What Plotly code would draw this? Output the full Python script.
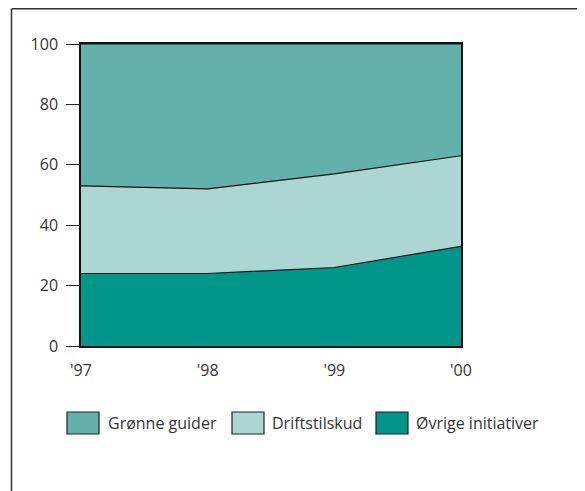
import plotly.graph_objects as go

years = ["'97", "'98", "'99", "'00"]
series_names = ["Grønne guider", "Driftstilskud", "Øvrige initiativer"]
groenne_guider = [47, 48, 43, 37]
driftstilskud = [29, 28, 31, 30]
oevrige = [24, 24, 26, 33]
y_ticks = [0, 20, 40, 60, 80, 100]

colors = {"Grønne guider": "#62b1aa", "Driftstilskud": "#acd6d2", "Øvrige initiativer": "#00968a"}

# page is offset by the browser's default 8px body margin
OFF = 8
W, H = 585, 491
L, T = 81 - OFF, 44 - OFF
pw, ph = 380, 302
R, B = W - L - pw, H - T - ph


def px(x):
    return (x - OFF - L) / pw


def py(y):
    return (H - B - (y - OFF)) / ph


fig = go.Figure()
for name, vals in [("Øvrige initiativer", oevrige), ("Driftstilskud", driftstilskud), ("Grønne guider", groenne_guider)]:
    fig.add_trace(go.Scatter(
        x=years, y=vals, name=name, mode="lines", stackgroup="one",
        line=dict(color="#111111", width=1.2), fillcolor=colors[name],
        showlegend=False, hoverinfo="x+y+name",
    ))

font = dict(family="Open Sans, Lato, sans-serif", size=16, color="#333333")

fig.update_layout(
    width=W, height=H, margin=dict(l=L, r=R, t=T, b=B),
    paper_bgcolor="white", plot_bgcolor="white", font=font, showlegend=False,
    xaxis=dict(range=[0, 3], showgrid=False, zeroline=False, showline=True, linecolor="#111111",
               linewidth=1.5, mirror=True, ticks="", ticklabelstandoff=9,
               tickfont=font, fixedrange=True),
    yaxis=dict(range=[0, 100], tickvals=y_ticks, showgrid=False, zeroline=False, showline=True,
               linecolor="#111111", linewidth=1.5, mirror=True, ticks="outside", ticklen=13,
               tickcolor="#222222", tickwidth=1.2, ticklabelstandoff=5, tickfont=font, fixedrange=True),
)
fig.update_xaxes(type="category")

shapes = [
    dict(type="line", xref="paper", yref="paper", x0=px(11.5), x1=px(600), y0=py(8.8), y1=py(8.8),
         line=dict(color="#333333", width=1.5)),
    dict(type="line", xref="paper", yref="paper", x0=px(11.5), x1=px(11.5), y0=py(8.8), y1=py(520),
         line=dict(color="#333333", width=1.5)),
]
legend_x = [(67, 106), (232, 270), (376, 414)]
annotations = []
for (sx, tx), name in zip(legend_x, series_names):
    shapes.append(dict(type="rect", xref="paper", yref="paper", x0=px(sx), x1=px(sx + 32),
                       y0=py(434), y1=py(412), fillcolor=colors[name],
                       line=dict(color="#222222", width=1.2)))
    annotations.append(dict(xref="paper", yref="paper", x=px(tx), y=py(423), text=name,
                            showarrow=False, xanchor="left", yanchor="middle", font=font))
fig.update_layout(shapes=shapes, annotations=annotations)

fig.write_html("out.html")
